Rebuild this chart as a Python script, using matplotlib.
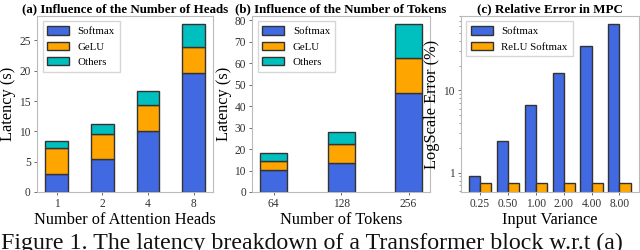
import numpy as np
import matplotlib
matplotlib.use('Agg')
import matplotlib.pyplot as plt
from matplotlib.ticker import LogLocator, FuncFormatter, NullFormatter

plt.rcParams['font.family'] = ['Liberation Serif', 'DejaVu Serif']

# (a) latency vs number of heads
heads = ['1', '2', '4', '8']
heads_softmax = [3.0, 5.4, 10.1, 19.7]
heads_gelu = [4.2, 4.25, 4.25, 4.25]
heads_others = [1.15, 1.5, 2.3, 3.7]

# (b) latency vs number of tokens
tokens = ['64', '128', '256']
tokens_softmax = [10.1, 13.6, 46.0]
tokens_gelu = [4.4, 8.7, 16.2]
tokens_others = [3.75, 5.5, 15.8]

# (c) relative error in MPC
variance = ['0.25', '0.50', '1.00', '2.00', '4.00', '8.00']
err_softmax = [0.91, 2.44, 6.6, 16.1, 34.7, 63.5]
err_relu = [0.75, 0.75, 0.75, 0.75, 0.75, 0.75]

c_soft = '#4169E1'
c_gelu = '#FFA500'
c_other = '#00BFBF'
edge = '#333333'
spine_c = '#bbbbbb'

fig = plt.figure(figsize=(6.4, 2.5), dpi=100)
ax1 = fig.add_axes([0.058, 0.232, 0.275, 0.704])
ax2 = fig.add_axes([0.394, 0.232, 0.278, 0.704])
ax3 = fig.add_axes([0.720, 0.232, 0.278, 0.704])


def stacked(ax, labels, s, g, o, width):
    x = np.arange(len(labels))
    s = np.array(s)
    g = np.array(g)
    o = np.array(o)
    ax.bar(x, s, width, color=c_soft, edgecolor=edge, linewidth=1, label='Softmax')
    ax.bar(x, g, width, bottom=s, color=c_gelu, edgecolor=edge, linewidth=1, label='GeLU')
    ax.bar(x, o, width, bottom=s + g, color=c_other, edgecolor=edge, linewidth=1, label='Others')
    ax.set_xticks(x)
    ax.set_xticklabels(labels)


stacked(ax1, heads, heads_softmax, heads_gelu, heads_others, 0.5)
ax1.set_yticks([0, 5, 10, 15, 20, 25])
ax1.set_xlabel('Number of Attention Heads', fontsize=11.8, labelpad=1)
ax1.set_ylabel('Latency (s)', fontsize=11.8, labelpad=2)
ax1.set_title('(a) Influence of the Number of Heads', fontsize=9.4, fontweight='bold', pad=3)

stacked(ax2, tokens, tokens_softmax, tokens_gelu, tokens_others, 0.4)
ax2.set_yticks([0, 10, 20, 30, 40, 50, 60, 70, 80])
ax2.set_xlabel('Number of Tokens', fontsize=11.8, labelpad=1)
ax2.set_ylabel('Latency (s)', fontsize=11.8, labelpad=2)
ax2.set_title('(b) Influence of the Number of Tokens', fontsize=9.4, fontweight='bold', pad=3)

x = np.arange(len(variance))
ax3.bar(x - 0.2, err_softmax, 0.4, color=c_soft, edgecolor=edge, linewidth=1, label='Softmax')
ax3.bar(x + 0.2, err_relu, 0.4, color=c_gelu, edgecolor=edge, linewidth=1, label='ReLU Softmax')
ax3.set_yscale('log')
ax3.set_ylim(0.58, 80)
ax3.yaxis.set_major_locator(LogLocator(base=10))
ax3.yaxis.set_major_formatter(FuncFormatter(lambda v, p: '%g' % v))
ax3.yaxis.set_minor_formatter(NullFormatter())
ax3.set_xticks(x)
ax3.set_xticklabels(variance)
ax3.set_xlabel('Input Variance', fontsize=11.8, labelpad=1)
ax3.set_ylabel('LogScale Error (%)', fontsize=11.8, labelpad=2)
ax3.set_title('(c) Relative Error in MPC', fontsize=9.4, fontweight='bold', pad=3)

for ax in (ax1, ax2, ax3):
    for sp in ax.spines.values():
        sp.set_color(spine_c)
        sp.set_linewidth(0.8)
    ax.tick_params(labelsize=8.3, length=2.5, width=0.6, color='#555555',
                   labelcolor='#333333', pad=2)
    ax.tick_params(which='minor', length=1.5, width=0.5, color='#777777')
    ax.legend(loc='upper left', fontsize=7.8, frameon=True, edgecolor='#cccccc',
              fancybox=False, handlelength=2.0, handleheight=0.8,
              borderpad=0.45, labelspacing=0.5, handletextpad=0.8,
              borderaxespad=0.5)

fig.text(0.002, 0.006, 'Figure 1. The latency breakdown of a Transformer block w.r.t (a)',
         fontsize=17.2, va='baseline', ha='left', color='#111111')

fig.savefig('out.png', dpi=100)
